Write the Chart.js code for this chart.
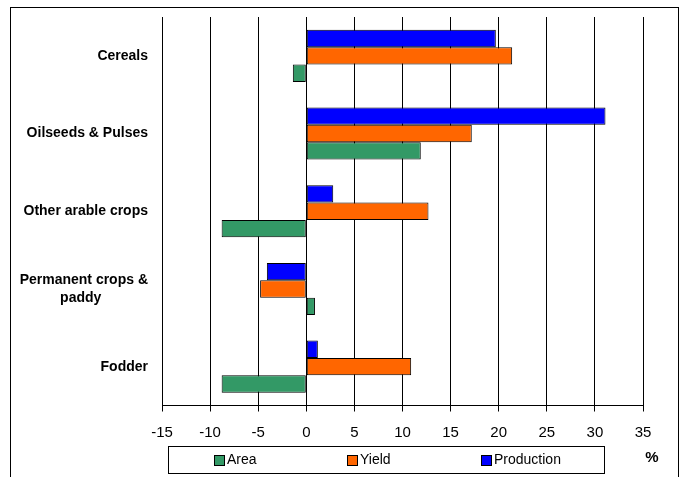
<!DOCTYPE html>
<html>
<head>
<meta charset="utf-8">
<script src="https://cdn.jsdelivr.net/npm/chart.js@4.4.0/dist/chart.umd.min.js"></script>
<style>
    html, body { margin: 0; padding: 0; background: #fff; }
    #caixa { position: relative; width: 681px; height: 477px; }
</style>
</head>
<body>
<div id="caixa"><canvas id="graficoCulturas" width="681" height="477"></canvas></div>
<script>
// categorias (eixo vertical) - "paddy" leva espacos para ficar centrado sob a 1a linha
var categorias = ["Cereals", "Oilseeds & Pulses", "Other arable crops", ["Permanent crops &", "paddy            "], "Fodder"];

// variacao em % por serie
var producao = [19.7, 31.1, 2.8, -4.1, 1.2];
var rendimento = [21.4, 17.2, 12.7, -4.8, 10.9];
var area = [-1.4, 11.9, -8.8, 0.9, -8.8];

// eixo x
var eixoMin = -15;
var eixoMax = 35;
var eixoPasso = 5;

var fonte = '"Liberation Sans", Arial, sans-serif';

// moldura externa, legenda com caixa e o simbolo %
var molduraPlugin = {
    id: 'moldura',
    afterDraw: function (chart) {
        var ctx = chart.ctx;
        ctx.save();
        ctx.strokeStyle = '#000';
        ctx.lineWidth = 1;
        ctx.strokeRect(10.5, 7.5, 668, 480);

        // caixa da legenda
        ctx.strokeRect(168.5, 446.5, 436, 27);

        // a legenda mostra as series na ordem inversa
        var itens = chart.data.datasets.slice().reverse();
        ctx.font = '14px ' + fonte;
        ctx.textBaseline = 'middle';
        for (var i = 0; i < itens.length; i++) {
            var x = Math.round(214 + i * 133.3);
            ctx.fillStyle = itens[i].backgroundColor;
            ctx.fillRect(x, 455, 10, 10);
            ctx.strokeRect(x + 0.5, 455.5, 10, 10);
            ctx.fillStyle = '#000';
            ctx.fillText(itens[i].label, x + 13, 460.5);
        }

        ctx.font = 'bold 15px ' + fonte;
        ctx.textAlign = 'center';
        ctx.fillText('%', 652, 458);
        ctx.restore();
    }
};

var ctx = document.getElementById('graficoCulturas');
new Chart(ctx, {
    type: 'bar',
    data: {
        labels: categorias,
        datasets: [{
            label: 'Production',
            data: producao,
            backgroundColor: '#0000FF'
        }, {
            label: 'Yield',
            data: rendimento,
            backgroundColor: '#FF6600'
        }, {
            label: 'Area',
            data: area,
            backgroundColor: '#339966'
        }]
    },
    options: {
        indexAxis: 'y',
        responsive: false,
        animation: false,
        devicePixelRatio: 1,
        datasets: {
            bar: {
                borderColor: '#000',
                borderWidth: 1,
                borderSkipped: false,
                categoryPercentage: 0.67,
                barPercentage: 1
            }
        },
        layout: {
            padding: { top: 17, right: 38, left: 0, bottom: 0 }
        },
        plugins: {
            legend: { display: false },
            tooltip: { enabled: false }
        },
        scales: {
            x: {
                min: eixoMin,
                max: eixoMax,
                afterFit: function (s) { s.height = 71.5; },
                ticks: {
                    stepSize: eixoPasso,
                    color: '#000',
                    padding: 12,
                    font: { family: fonte, size: 15 }
                },
                grid: {
                    color: '#000',
                    lineWidth: 1,
                    tickLength: 6
                },
                border: { color: '#000' }
            },
            y: {
                afterFit: function (s) {
                    s.width = 162;
                    s.paddingTop = 0;
                    s.paddingBottom = 0;
                },
                grid: { display: false, drawTicks: false },
                border: { display: true, color: '#000' },
                ticks: {
                    color: '#000',
                    padding: 14,
                    font: { family: fonte, size: 14, weight: 'bold', lineHeight: 1.3 }
                }
            }
        }
    },
    plugins: [molduraPlugin]
});
</script>
</body>
</html>
